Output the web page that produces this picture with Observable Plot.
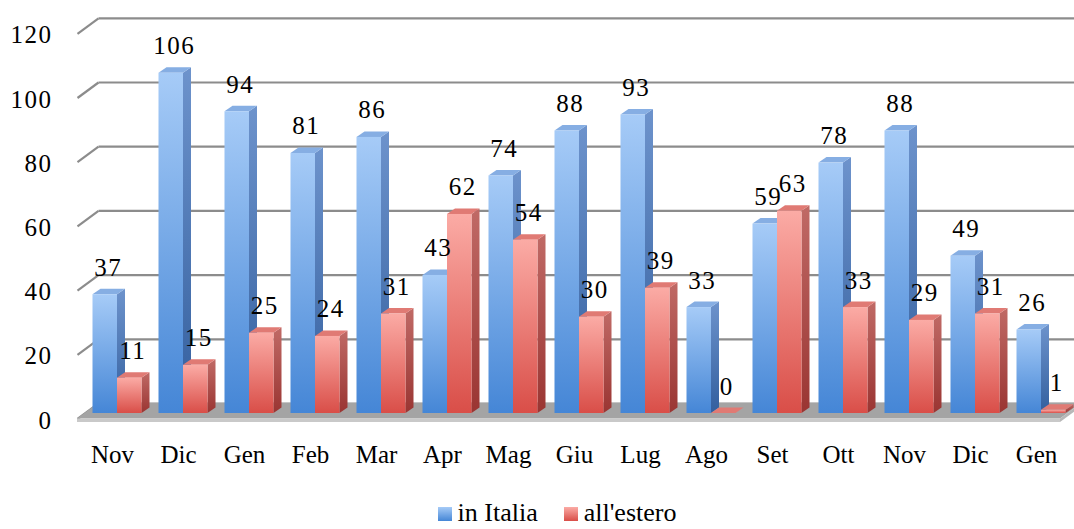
<!DOCTYPE html>
<html>
<head>
<meta charset="utf-8">
<script src="https://cdn.jsdelivr.net/npm/d3@7"></script>
<script src="https://cdn.jsdelivr.net/npm/@observablehq/plot@0.6"></script>
<style>
html, body { margin: 0; padding: 0; background: #fff; }
#chart { width: 1074px; height: 529px; overflow: hidden; }
#chart svg text { font-family: "Liberation Serif", serif; }
#chart svg g[aria-label="text"] text, #chart svg g[aria-label="y-axis tick label"] text { letter-spacing: 1.5px; }
.legend { display: flex; justify-content: center; align-items: center; height: 32px;
  font-family: "Liberation Serif", serif; font-size: 26px; color: #000; padding-left: 40px; }
.legend .item { display: flex; align-items: center; margin: 0 13px; }
.legend .sw { width: 14px; height: 14px; margin-right: 6px; margin-top: 2px; }
</style>
</head>
<body>
<div id="chart"></div>
<script>
// ---- data ----
const months = ["Nov", "Dic", "Gen", "Feb", "Mar", "Apr", "Mag", "Giu", "Lug", "Ago", "Set", "Ott", "Nov", "Dic", "Gen"];
const italia = [37, 106, 94, 81, 86, 43, 74, 88, 93, 33, 59, 78, 88, 49, 26];
const estero = [11, 15, 25, 24, 31, 62, 54, 30, 39, 0, 63, 33, 29, 31, 1];
const seriesNames = ["in Italia", "all'estero"];
const yTicks = [0, 20, 40, 60, 80, 100, 120];

// ---- layout (pixels -> data units) ----
const X0 = 117, STEP = 66, Y0 = 413, PXU = 385.2 / 120;
const ux = px => px / STEP;
const uy = px => px / PXU;
const BAR_W = ux(24.5), DEPTH_X = ux(8), DEPTH_Y = uy(5.5);
const FRONT_Y = -uy(5.5), BACK_Y = uy(10);
const LEFT_FRONT = ux(77 - X0), LEFT_BACK = ux(98 - X0);

const bars = [];
months.forEach((m, i) => {
  bars.push({id: "a" + i, s: 0, i, v: italia[i], x1: i - BAR_W, x2: i});
  bars.push({id: "b" + i, s: 1, i, v: estero[i], x1: i, x2: i + BAR_W});
});
const sidePts = bars.flatMap(b => [
  {id: b.id, s: b.s, x: b.x2, y1: 0, y2: b.v},
  {id: b.id, s: b.s, x: b.x2 + DEPTH_X, y1: DEPTH_Y, y2: b.v + DEPTH_Y}
]);
const topPts = bars.flatMap(b => [
  {id: b.id, s: b.s, y: b.v, x1: b.x1, x2: b.x2},
  {id: b.id, s: b.s, y: b.v + DEPTH_Y, x1: b.x1 + DEPTH_X, x2: b.x2 + DEPTH_X}
]);
const floorPts = [
  {y: FRONT_Y, x1: LEFT_FRONT, x2: ux(1060 - X0)},
  {y: BACK_Y, x1: LEFT_BACK, x2: ux(1081 - X0)}
];

const fronts = ["url(#gBlue)", "url(#gRed)"];
const sides = ["url(#gBlueSide)", "url(#gRedSide)"];
const tops = ["#86aee3", "#e07a74"];

const font = "Liberation Serif";
const seriesMarks = [0, 1].flatMap(s => [
  Plot.areaY(sidePts.filter(d => d.s === s), {x: "x", y1: "y1", y2: "y2", z: "id", fill: sides[s]}),
  Plot.areaX(topPts.filter(d => d.s === s), {y: "y", x1: "x1", x2: "x2", z: "id", fill: tops[s]}),
  Plot.rect(bars.filter(d => d.s === s), {x1: "x1", x2: "x2", y1: 0, y2: "v", fill: fronts[s]})
]);

const plot = Plot.plot({
  width: 1074,
  height: 497,
  marginLeft: 60,
  marginRight: 0,
  marginTop: 0,
  marginBottom: 84,
  style: {fontFamily: font, fontSize: "25px", color: "#000", background: "#fff"},
  x: {type: "linear", domain: [0, 14], range: [X0, X0 + 14 * STEP]},
  y: {type: "linear", domain: [0, 120], range: [Y0, Y0 - 120 * PXU]},
  marks: [
    // back wall gridlines
    Plot.link(yTicks, {x1: LEFT_BACK, x2: ux(1074 - X0), y1: d => d + BACK_Y, y2: d => d + BACK_Y, stroke: "#8c8c8c", strokeWidth: 2.2}),
    // side wall diagonals
    Plot.link(yTicks, {x1: LEFT_FRONT, x2: LEFT_BACK, y1: d => d + FRONT_Y, y2: d => d + BACK_Y, stroke: "#8c8c8c", strokeWidth: 2.2}),
    // floor
    Plot.areaX(floorPts, {y: "y", x1: "x1", x2: "x2", fill: "#a4a4a4"}),
    Plot.rect([0], {x1: LEFT_FRONT, x2: ux(1060 - X0), y1: FRONT_Y, y2: FRONT_Y - uy(3.5), fill: "#c9c9c9"}),
    Plot.areaY([{x: ux(1060 - X0), y1: FRONT_Y - uy(3.5), y2: FRONT_Y}, {x: ux(1081 - X0), y1: BACK_Y - uy(3.5), y2: BACK_Y}], {x: "x", y1: "y1", y2: "y2", fill: "#b8b8b8"}),
    ...seriesMarks,
    // value labels
    Plot.text(bars, {x: d => (d.x1 + d.x2) / 2, y: "v", text: d => String(d.v), dy: -27, dx: 3, fontSize: 25, fontFamily: font, fill: "#000"}),
    // axes
    Plot.axisY(yTicks, {anchor: "left", tickSize: 0, tickPadding: 8, dy: 7, label: null, fontSize: 25, fontFamily: font}),
    Plot.axisX(d3.range(months.length), {anchor: "bottom", tickSize: 0, tickPadding: 32, dx: -5, tickFormat: i => months[i], label: null, fontSize: 25, fontFamily: font})
  ]
});

// gradients
const NS = "http://www.w3.org/2000/svg";
const defs = document.createElementNS(NS, "defs");
const grads = [
  ["gBlue", "#a6cbf7", "#4586d6"],
  ["gRed", "#fbaba5", "#d94e48"],
  ["gBlueSide", "#6d93cc", "#335f9e"],
  ["gRedSide", "#c06a66", "#9a3532"]
];
for (const [id, c1, c2] of grads) {
  const g = document.createElementNS(NS, "linearGradient");
  g.setAttribute("id", id);
  g.setAttribute("x1", "0"); g.setAttribute("y1", "0");
  g.setAttribute("x2", "0"); g.setAttribute("y2", "1");
  [[0, c1], [1, c2]].forEach(([o, c]) => {
    const st = document.createElementNS(NS, "stop");
    st.setAttribute("offset", o);
    st.setAttribute("stop-color", c);
    g.appendChild(st);
  });
  defs.appendChild(g);
}
plot.insertBefore(defs, plot.firstChild);

const chart = document.getElementById("chart");
chart.appendChild(plot);

// legend
const legend = document.createElement("div");
legend.className = "legend";
const swatchBg = ["linear-gradient(#a6cbf7, #4586d6)", "linear-gradient(#fbaba5, #d94e48)"];
seriesNames.forEach((name, k) => {
  const item = document.createElement("div");
  item.className = "item";
  const sw = document.createElement("div");
  sw.className = "sw";
  sw.style.background = swatchBg[k];
  const t = document.createElement("span");
  t.textContent = name;
  item.appendChild(sw);
  item.appendChild(t);
  legend.appendChild(item);
});
chart.appendChild(legend);
</script>
</body>
</html>
